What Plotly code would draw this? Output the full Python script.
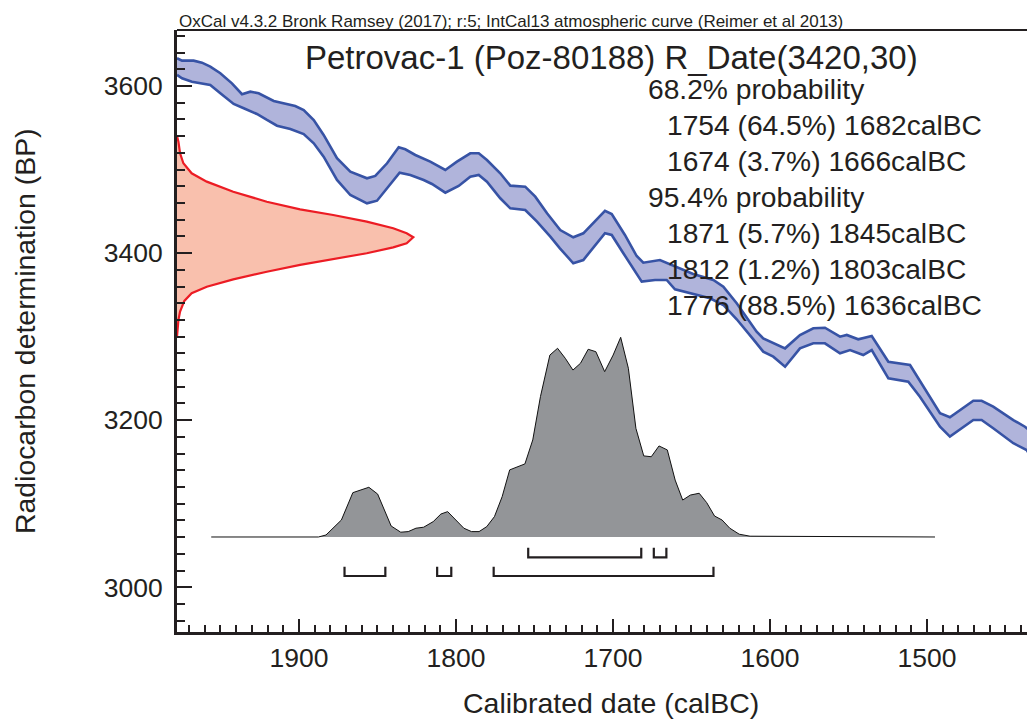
import plotly.graph_objects as go

# ---------------- data ----------------
# IntCal13 curve band (upper and lower 1-sigma envelope), calBC / BP
curve_upper_cal = [1977.7, 1974.5, 1967.1, 1961.8, 1956.5, 1950.1, 1942.7, 1936.3, 1931.0, 1925.7,
                   1916.1, 1907.6, 1902.4, 1897.0, 1890.6, 1884.3, 1875.8, 1867.3, 1856.7, 1851.4,
                   1843.9, 1836.5, 1832.3, 1825.9, 1816.4, 1806.8, 1799.4, 1790.9, 1785.5, 1780.3,
                   1771.8, 1765.4, 1755.9, 1749.5, 1742.0, 1733.6, 1725.3, 1718.9, 1705.1, 1700.8,
                   1692.4, 1684.9, 1680.7, 1670.1, 1648.9, 1636.1, 1629.7, 1621.2, 1608.5, 1604.3,
                   1597.9, 1590.4, 1580.9, 1572.4, 1565.0, 1555.4, 1551.1, 1543.8, 1535.2, 1524.6,
                   1510.8, 1503.4, 1491.7, 1485.4, 1470.5, 1465.2, 1457.8, 1445.0, 1437.6, 1431.2]
curve_upper_bp = [3633.2, 3630.3, 3630.3, 3627.9, 3623.1, 3615.2, 3603.2, 3590.1, 3593.2, 3591.3,
                  3582.0, 3578.1, 3576.1, 3571.3, 3559.3, 3541.4, 3513.5, 3497.5, 3489.5, 3492.3,
                  3507.5, 3526.6, 3524.2, 3517.4, 3509.4, 3499.5, 3509.4, 3519.4, 3519.4, 3511.4,
                  3495.5, 3480.7, 3479.5, 3467.5, 3447.6, 3427.6, 3418.9, 3423.7, 3450.7, 3446.8,
                  3421.7, 3396.5, 3388.5, 3391.7, 3375.0, 3367.8, 3359.8, 3339.9, 3305.9, 3298.0,
                  3292.8, 3286.0, 3301.9, 3310.0, 3310.7, 3299.9, 3302.0, 3296.8, 3300.8, 3270.0,
                  3266.1, 3244.2, 3208.3, 3203.5, 3223.3, 3223.3, 3216.2, 3200.2, 3192.2, 3182.3]

curve_lower_cal = [1977.7, 1974.5, 1968.2, 1960.7, 1956.5, 1950.1, 1941.6, 1935.2, 1926.8, 1920.4,
                   1914.0, 1905.5, 1897.0, 1890.6, 1884.3, 1875.8, 1867.3, 1856.7, 1850.3, 1843.9,
                   1835.9, 1829.1, 1820.6, 1815.3, 1806.8, 1798.3, 1790.9, 1785.5, 1780.3, 1771.8,
                   1765.4, 1755.9, 1748.4, 1739.9, 1733.8, 1725.3, 1718.9, 1705.1, 1700.8, 1693.4,
                   1681.7, 1673.2, 1665.8, 1660.5, 1648.9, 1638.2, 1629.7, 1621.2, 1610.6, 1604.3,
                   1597.9, 1590.4, 1580.9, 1572.4, 1565.0, 1555.4, 1549.0, 1540.6, 1535.2, 1524.6,
                   1511.9, 1504.5, 1491.7, 1485.4, 1470.5, 1465.2, 1457.8, 1445.0, 1436.5, 1431.2]
curve_lower_bp = [3613.2, 3609.2, 3605.1, 3602.4, 3601.2, 3591.3, 3578.5, 3573.3, 3566.5, 3559.3,
                  3552.5, 3548.5, 3542.5, 3531.4, 3515.4, 3487.5, 3469.5, 3459.6, 3462.7, 3477.6,
                  3496.2, 3493.5, 3487.5, 3482.7, 3472.3, 3480.3, 3491.4, 3493.5, 3485.5, 3465.6,
                  3453.6, 3451.6, 3437.6, 3419.6, 3405.7, 3387.8, 3391.7, 3423.7, 3421.7, 3399.8,
                  3365.8, 3367.8, 3367.8, 3356.7, 3351.0, 3345.9, 3337.9, 3320.8, 3296.8, 3282.0,
                  3276.0, 3264.0, 3286.0, 3292.0, 3292.0, 3280.1, 3284.0, 3278.0, 3284.0, 3250.1,
                  3246.1, 3228.1, 3192.2, 3180.3, 3200.2, 3200.2, 3190.3, 3172.4, 3164.3, 3148.4]

# Radiocarbon measurement R_Date(3420,30): BP vs relative density
red_bp = [3540, 3533.3, 3519.4, 3507.5, 3495.5, 3485.5, 3473.5, 3461.5, 3452.4, 3445.6,
          3437.6, 3429.7, 3423.7, 3418.9, 3411.7, 3406.9, 3399.8, 3392.6, 3385.8, 3377.7,
          3368.6, 3359.8, 3351.9, 3342.8, 3329.9, 3319.9, 3300]
red_dens = [0, 0.006, 0.013, 0.027, 0.062, 0.126, 0.238, 0.380, 0.521, 0.661,
            0.803, 0.915, 0.972, 1.0, 0.972, 0.915, 0.803, 0.661, 0.521, 0.380,
            0.238, 0.126, 0.062, 0.031, 0.013, 0.006, 0]

# Calibrated probability distribution: calBC vs relative probability
cal_bc = [1955.9, 1887.6, 1882.8, 1873.0, 1865.7, 1855.5, 1849.9, 1841.3, 1835.2, 1830.4,
          1825.5, 1820.6, 1814.5, 1809.6, 1805.3, 1799.9, 1795.0, 1790.1, 1785.3, 1780.4,
          1775.5, 1770.6, 1765.8, 1756.1, 1751.1, 1746.2, 1740.2, 1735.3, 1730.4, 1725.5,
          1720.7, 1715.8, 1710.9, 1705.3, 1699.9, 1695.1, 1690.2, 1685.4, 1680.4, 1675.6,
          1670.7, 1665.4, 1660.4, 1655.6, 1650.7, 1645.1, 1640.3, 1635.3, 1630.5, 1625.6,
          1619.6, 1612.7, 1494.9]
cal_prob = [0, 0, 0.010, 0.085, 0.222, 0.249, 0.215, 0.055, 0.024, 0.027,
            0.044, 0.049, 0.077, 0.115, 0.127, 0.085, 0.044, 0.027, 0.027, 0.052,
            0.102, 0.202, 0.336, 0.366, 0.486, 0.703, 0.911, 0.945, 0.895, 0.836,
            0.870, 0.940, 0.928, 0.828, 0.911, 1.0, 0.845, 0.544, 0.406, 0.402,
            0.456, 0.436, 0.285, 0.185, 0.210, 0.219, 0.172, 0.105, 0.085, 0.044,
            0.014, 0.004, 0]

# Highest posterior density ranges
range68_from = [1754, 1674]
range68_to = [1682, 1666]
range68_pct = ["64.5%", "3.7%"]
range95_from = [1871, 1812, 1776]
range95_to = [1845, 1803, 1636]
range95_pct = ["5.7%", "1.2%", "88.5%"]

title_text = "Petrovac-1 (Poz-80188) R_Date(3420,30)"
header_text = "OxCal v4.3.2 Bronk Ramsey (2017); r:5; IntCal13 atmospheric curve (Reimer et al 2013)"
x_title = "Calibrated date (calBC)"
y_title = "Radiocarbon determination (BP)"

# ---------------- styling / layout ----------------
# the page body keeps the browser's default 8px margin, so the figure is
# made 8px smaller and every screen position is offset by it
OFF = 8
W, H = 1035 - OFF, 722 - OFF
L, R, T, B = 177 - OFF, 0, 30 - OFF, 90
PW, PH = W - L - R, H - T - B          # 858 x 602 plot area
PLOT_LEFT, PLOT_BOTTOM = 177, 632      # screen pixels of the plot corner
FONT = "Liberation Sans, Arial, Helvetica, sans-serif"
INK = "#231f20"
BLUE = "#3753a5"
BAND = "rgba(176,180,219,1)"
RED = "#ec1c24"
SALMON = "#f9c0ad"
GREY = "#939598"

def px(xs):
    return (xs - PLOT_LEFT) / PW

def py(ys):
    return (PLOT_BOTTOM - ys) / PH

fig = go.Figure()

# calibration band fill
fig.add_trace(go.Scatter(
    x=curve_upper_cal + curve_lower_cal[::-1],
    y=curve_upper_bp + curve_lower_bp[::-1],
    fill="toself", fillcolor=BAND, line=dict(width=0), mode="lines",
    hoverinfo="skip", showlegend=False))
for cx, cy in ((curve_upper_cal, curve_upper_bp), (curve_lower_cal, curve_lower_bp)):
    fig.add_trace(go.Scatter(x=cx, y=cy, mode="lines",
                             line=dict(color=BLUE, width=2.6), showlegend=False))

# radiocarbon measurement (on y axis)
fig.add_trace(go.Scatter(x=red_dens, y=red_bp, xaxis="x2", yaxis="y",
                         mode="lines", fill="tozerox", fillcolor=SALMON,
                         line=dict(color=RED, width=2.2), showlegend=False))

# calibrated distribution
fig.add_trace(go.Scatter(x=cal_bc, y=cal_prob, xaxis="x", yaxis="y2",
                         mode="lines", fill="tozeroy", fillcolor=GREY,
                         line=dict(color="#111111", width=1), showlegend=False))

# range brackets
def brackets(starts, ends, top, bottom):
    xs, ys = [], []
    for a, b in zip(starts, ends):
        xs += [a, a, b, b, None]
        ys += [top, bottom, bottom, top, None]
    return xs, ys

bx1, by1 = brackets(range68_from, range68_to, 3047.4, 3035.9)
bx2, by2 = brackets(range95_from, range95_to, 3024.7, 3013.5)
fig.add_trace(go.Scatter(x=bx1 + bx2, y=by1 + by2, mode="lines",
                         line=dict(color=INK, width=2.2), showlegend=False))

# ---------------- annotations ----------------
ann = []
ann.append(dict(text=header_text, x=0, y=py(21), xref="paper", yref="paper",
                xanchor="left", yanchor="middle", showarrow=False,
                font=dict(size=17, color=INK, family=FONT)))
ann.append(dict(text=title_text, x=px(611), y=py(57), xref="paper", yref="paper",
                xanchor="center", yanchor="middle", showarrow=False,
                font=dict(size=33, color=INK, family=FONT)))

lines = [("68.2% probability", 646)]
for a, p, b in zip(range68_from, range68_pct, range68_to):
    lines.append((f"{a} ({p}) {b}calBC", 665))
lines.append(("95.4% probability", 646))
for a, p, b in zip(range95_from, range95_pct, range95_to):
    lines.append((f"{a} ({p}) {b}calBC", 665))
for i, (t, xl) in enumerate(lines):
    base = 99 + 36 * i
    ann.append(dict(text=t, x=px(xl), y=py(base - 10), xref="paper", yref="paper",
                    xanchor="left", yanchor="middle", showarrow=False,
                    font=dict(size=28.2, color=INK, family=FONT)))

ann.append(dict(text=x_title, x=px(611), y=py(703), xref="paper", yref="paper",
                xanchor="center", yanchor="middle", showarrow=False,
                font=dict(size=28.5, color=INK, family=FONT)))
ann.append(dict(text=y_title, x=px(25), y=py(331), xref="paper", yref="paper",
                xanchor="center", yanchor="middle", showarrow=False, textangle=-90,
                font=dict(size=28.4, color=INK, family=FONT)))

fig.update_layout(
    width=W, height=H, margin=dict(l=L, r=R, t=T, b=B, pad=0),
    paper_bgcolor="white", plot_bgcolor="white",
    font=dict(family=FONT, color=INK),
    annotations=ann,
    shapes=[dict(type="line", xref="paper", yref="paper", x0=0, x1=1, y0=1, y1=1,
                 line=dict(color=INK, width=2))],
    xaxis=dict(range=[1977.7, 1431.2], dtick=100, tick0=0, ticks="inside", ticklen=13,
               tickwidth=2, tickcolor=INK, showline=True, linewidth=3, linecolor=INK,
               showgrid=False, zeroline=False,
               tickfont=dict(size=26.5, family=FONT, color=INK),
               minor=dict(dtick=10, tick0=0, ticks="inside", ticklen=7, tickwidth=1.5,
                          tickcolor=INK, showgrid=False)),
    yaxis=dict(range=[2946.5, 3667], dtick=200, tick0=0, ticks="inside", ticklen=15,
               tickwidth=2, tickcolor=INK, showline=True, linewidth=3, linecolor=INK,
               showgrid=False, zeroline=False, ticklabelstandoff=6,
               tickfont=dict(size=26.5, family=FONT, color=INK),
               minor=dict(dtick=20, tick0=0, ticks="inside", ticklen=8, tickwidth=1.5,
                          tickcolor=INK, showgrid=False)),
    xaxis2=dict(overlaying="x", anchor="y", range=[0, PW / 236.3], visible=False),
    yaxis2=dict(overlaying="y", anchor="x", range=[-0.4758, 2.539], visible=False),
)

fig.write_html("out.html")
